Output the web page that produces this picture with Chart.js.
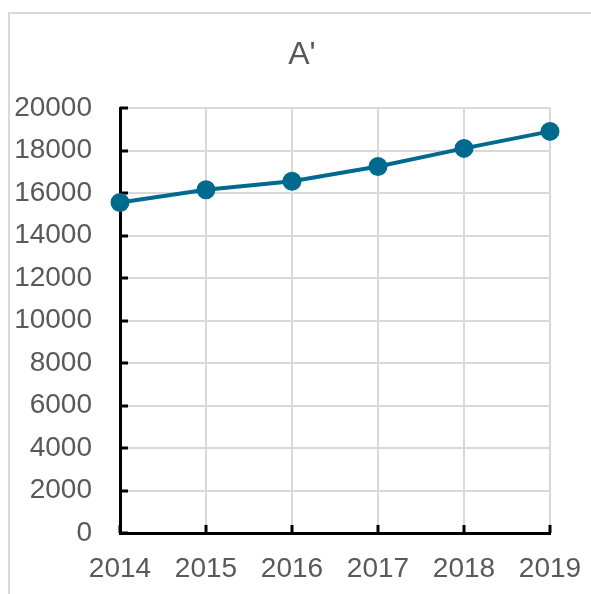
<!DOCTYPE html>
<html>
<head>
<meta charset="utf-8">
<script src="https://cdn.jsdelivr.net/npm/chart.js@4/dist/chart.umd.min.js"></script>
<style>
  html, body { margin:0; padding:0; background:#fff; overflow:hidden; }
  #frame { position:absolute; left:8px; top:12px; width:640px; height:640px; border:2px solid #d9d9d9; box-sizing:border-box; }
  #chart { position:absolute; left:0; top:0; }
</style>
</head>
<body>
<div id="frame"></div>
<canvas id="chart" width="591" height="594"></canvas>
<script>
/* ===== Data ===== */
const years = ["2014", "2015", "2016", "2017", "2018", "2019"];
const values = [15550, 16150, 16550, 17250, 18100, 18900];
const yTicks = [0, 2000, 4000, 6000, 8000, 10000, 12000, 14000, 16000, 18000, 20000];

const lineColor = "#006A8E";
const textColor = "#595959";
const gridColor = "#d9d9d9";
const fontFam = "'Liberation Sans', Arial, sans-serif";

// inward tick marks like the spreadsheet original
const innerTicks = {
  id: "innerTicks",
  beforeDatasetsDraw(chart){
    const ctx = chart.ctx;
    const x = chart.scales.x, y = chart.scales.y;
    ctx.save();
    ctx.strokeStyle = "#000";
    ctx.lineWidth = 3;
    ctx.beginPath();
    yTicks.forEach(v=>{
      const py = Math.round(y.getPixelForValue(v));
      ctx.moveTo(x.left, py);
      ctx.lineTo(x.left + 8, py);
    });
    years.forEach((yr, i)=>{
      const px = Math.round(x.getPixelForValue(i));
      ctx.moveTo(px, y.bottom);
      ctx.lineTo(px, y.bottom - 8);
    });
    ctx.stroke();
    ctx.restore();
  }
};

new Chart(document.getElementById("chart"), {
  type: "line",
  data: {
    labels: years,
    datasets: [{
      data: values,
      borderColor: lineColor,
      backgroundColor: lineColor,
      borderWidth: 4,
      pointRadius: 7.5,
      pointBackgroundColor: lineColor,
      pointBorderColor: lineColor,
      tension: 0,
      clip: false
    }]
  },
  options: {
    responsive: false,
    animation: false,
    layout: { padding: { left: 13, right: 0, top: 0, bottom: 0 } },
    plugins: {
      legend: { display: false },
      tooltip: { enabled: false },
      title: {
        display: true,
        text: "A'",
        color: textColor,
        font: { family: fontFam, size: 32, weight: "normal" },
        padding: { top: 36, bottom: 33.6 }
      }
    },
    scales: {
      x: {
        offset: false,
        grid: { color: gridColor, lineWidth: 2, drawTicks: false },
        border: { color: "#000", width: 3 },
        ticks: {
          color: textColor,
          padding: 19,
          maxRotation: 0,
          autoSkip: false,
          font: { family: fontFam, size: 28 }
        },
        afterFit(scale){
          scale.height = 594 - 533;
          scale.paddingRight = 41;
        }
      },
      y: {
        min: 0,
        max: 20000,
        afterBuildTicks(scale){ scale.ticks = yTicks.map(v=>({ value: v })); },
        grid: { color: gridColor, lineWidth: 2, drawTicks: false },
        border: { color: "#000", width: 3 },
        ticks: {
          color: textColor,
          padding: 28,
          font: { family: fontFam, size: 28 },
          callback: (v)=> String(v)
        },
        afterFit(scale){ scale.width = 107; }
      }
    }
  },
  plugins: [innerTicks]
});
</script>
</body>
</html>
